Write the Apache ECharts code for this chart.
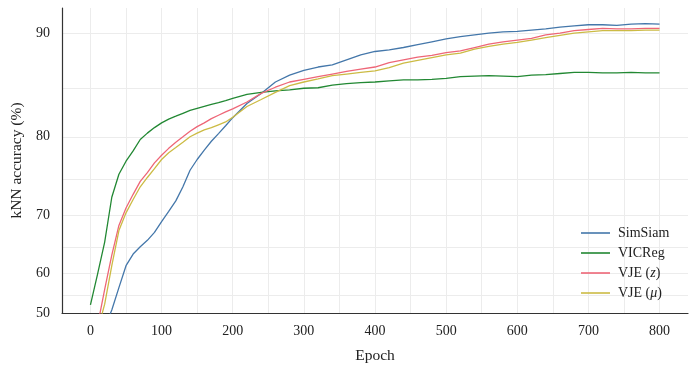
<!DOCTYPE html>
<html>
<head>
<meta charset="utf-8">
<script src="https://cdn.jsdelivr.net/npm/echarts@6/dist/echarts.min.js"></script>
<style>html,body{margin:0;padding:0;background:#fff}#c{width:698px;height:372px}</style>
</head>
<body>
<div id="c"></div>
<script>
const epochs = [0,10,20,30,40,50,60,70,80,90,100,110,120,130,140,150,160,170,180,190,200,220,240,260,280,300,320,340,360,380,400,420,440,460,480,500,520,540,560,580,600,620,640,660,680,700,720,740,760,780,800];
const simsiam = [38,41,45,50.9,56.8,61.5,63.7,65.0,66.1,67.4,69.1,70.6,72.1,74.0,76.1,77.4,78.5,79.5,80.35,81.2,82.05,83.5,84.5,85.6,86.25,86.7,87.0,87.2,87.65,88.1,88.4,88.55,88.75,89.0,89.25,89.5,89.7,89.85,90.0,90.1,90.15,90.25,90.35,90.5,90.6,90.7,90.7,90.65,90.75,90.8,90.75];
const vicreg = [52.4,59.8,65.8,72.6,75.6,77.2,78.4,79.7,80.4,81.0,81.5,81.9,82.2,82.5,82.8,83.0,83.2,83.4,83.6,83.8,84.0,84.4,84.6,84.75,84.85,85.0,85.05,85.3,85.45,85.55,85.6,85.7,85.8,85.8,85.85,85.95,86.1,86.15,86.2,86.15,86.1,86.25,86.3,86.4,86.5,86.5,86.45,86.45,86.5,86.45,86.45];
const vjeZ = [40,45.7,56.4,63.5,68.5,71.1,73.0,74.7,75.8,77.0,77.9,78.7,79.4,80.0,80.6,81.1,81.5,81.95,82.3,82.65,82.95,83.65,84.5,85.1,85.6,85.85,86.1,86.35,86.6,86.8,87.0,87.4,87.65,87.9,88.05,88.3,88.45,88.75,89.05,89.25,89.4,89.55,89.85,90.0,90.2,90.3,90.4,90.35,90.35,90.4,90.4];
const vjeMu = [38,43.8,52.6,61.5,67.7,70.4,72.3,74.0,75.2,76.3,77.4,78.2,78.8,79.4,80.0,80.4,80.75,81.0,81.3,81.6,82.1,83.2,83.9,84.6,85.25,85.6,85.9,86.2,86.35,86.5,86.65,86.95,87.35,87.6,87.85,88.1,88.25,88.6,88.85,89.05,89.2,89.4,89.6,89.8,90.0,90.1,90.2,90.2,90.2,90.25,90.25];
const seriesNames = ['SimSiam','VICReg','VJE (z)','VJE (\u03bc)'];
const seriesColors = ['#4477AA','#228833','#EE6677','#CCBB44'];
const yTickLabels = [50,60,70,80,90];
const yGridValues = [50,55,60,65,70,75,80,85,90];
const xTickLabels = [0,100,200,300,400,500,600,700,800];
const xGridValues = [0,50,100,150,200,250,300,350,400,450,500,550,600,650,700,750,800];

const P = 3.2;
const fwd = v => Math.pow(v / 100, P);
const inv = t => 100 * Math.pow(t, 1 / P);
const FONT = 'Liberation Serif';
const allValues = [simsiam, vicreg, vjeZ, vjeMu];

const chart = echarts.init(document.getElementById('c'), null, {renderer: 'canvas'});
chart.setOption({
  animation: false,
  backgroundColor: '#fff',
  grid: {left: 62, right: 10, top: 8, bottom: 59, containLabel: false},
  xAxis: {
    type: 'value', min: -40, max: 840,
    name: 'Epoch', nameLocation: 'middle', nameGap: 35,
    nameTextStyle: {fontFamily: FONT, fontSize: 15.5, color: '#222'},
    axisLine: {show: true, onZero: false, lineStyle: {color: '#333', width: 1.2}},
    axisTick: {show: false, customValues: xGridValues},
    axisLabel: {customValues: xTickLabels, margin: 11, fontFamily: FONT, fontSize: 14, color: '#222'},
    splitLine: {show: true, lineStyle: {color: '#ececec', width: 1}}
  },
  yAxis: {
    type: 'value', min: fwd(50), max: fwd(92.08),
    name: 'kNN accuracy (%)', nameLocation: 'middle', nameGap: 36, nameRotate: 90,
    nameTextStyle: {fontFamily: FONT, fontSize: 15.5, color: '#222'},
    axisLine: {show: true, onZero: false, lineStyle: {color: '#333', width: 1.2}},
    axisTick: {show: false, customValues: yGridValues.map(fwd)},
    axisLabel: {customValues: yTickLabels.map(fwd), margin: 12, fontFamily: FONT, fontSize: 14, color: '#222',
      formatter: v => String(Math.round(inv(v)))},
    splitLine: {show: true, lineStyle: {color: '#ececec', width: 1}}
  },
  legend: {
    orient: 'vertical', left: 581, top: 226, padding: 0,
    icon: 'rect', itemWidth: 29, itemHeight: 1.6, itemGap: 6,
    data: seriesNames,
    formatter: function (name) {
      if (name === 'VJE (z)') return 'VJE ({it|z})';
      if (name === 'VJE (\u03bc)') return 'VJE ({it|\u03bc})';
      return name;
    },
    textStyle: {fontFamily: FONT, fontSize: 14, color: '#222', padding: [0, 0, 0, 3],
      rich: {it: {fontFamily: FONT, fontSize: 14, fontStyle: 'italic', color: '#222'}}}
  },
  series: seriesNames.map((n, i) => ({
    name: n, type: 'line', symbol: 'none', clip: true,
    color: seriesColors[i],
    lineStyle: {width: 1.3, color: seriesColors[i]},
    data: epochs.map((e, j) => [e, fwd(allValues[i][j])])
  }))
});
</script>
</body>
</html>
